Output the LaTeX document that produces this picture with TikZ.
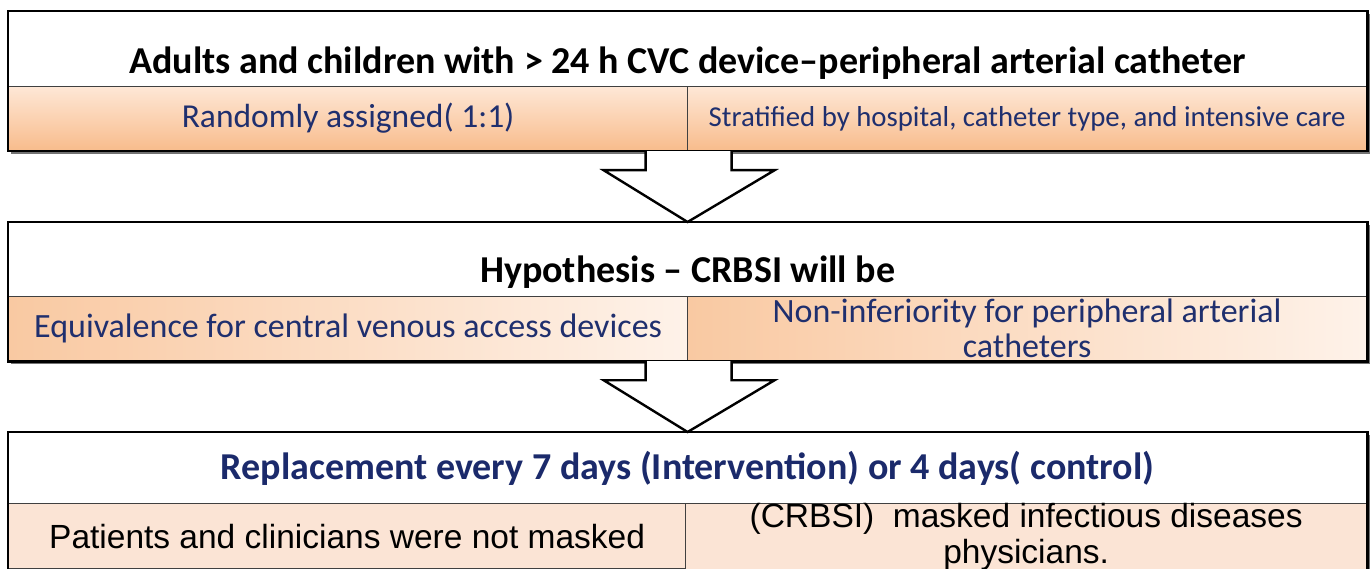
\documentclass[tikz,border=0pt]{standalone}
\usepackage{fontspec}
\setmainfont{Carlito}
\newfontfamily\arialfont{Liberation Sans}
\usetikzlibrary{positioning, calc, backgrounds}
\definecolor{navytext}{HTML}{1F2F6E}
\definecolor{headnavy}{HTML}{1B2A6B}
\definecolor{peachtop}{HTML}{FEE7D6}
\definecolor{peachbot}{HTML}{F8BC8C}
\definecolor{peachleft}{HTML}{F9C9A2}
\definecolor{peachright}{HTML}{FEF2E9}
\definecolor{peachflat}{HTML}{FBE4D5}
\definecolor{framegray}{HTML}{404040}

\begin{document}
\begin{tikzpicture}[x=1pt, y=-1pt,
    cell/.style={draw=framegray, line width=1.2pt, rectangle, inner sep=0pt, anchor=north west, align=center},
    headcell/.style={cell, fill=white, minimum width=1358pt, font=\bfseries\fontsize{38}{44}\selectfont},
    subcell/.style={cell, minimum width=679pt, text=navytext, font=\fontsize{34}{35}\selectfont},
    vshade/.style={top color=peachtop, bottom color=peachbot},
    hshade/.style={left color=peachleft, right color=peachright},
    flatcell/.style={fill=peachflat, text=black, font=\arialfont\fontsize{33.5}{36}\selectfont},
    frame/.style={draw=black, line width=2.6pt},
    blockarrow/.style={draw=black, fill=white, line width=2.4pt, line join=miter}]
    \useasboundingbox (0,0) rectangle (1370,569);

    % Box 1: population
    \node[headcell, minimum height=75pt, text height=49pt, text depth=0pt] (head1) at (8,11) {Adults and children with > 24 h CVC device--peripheral arterial catheter};
    \node[subcell, vshade, minimum height=64pt, font=\fontsize{33.5}{35}\selectfont] (rand) at (8,86) {Randomly assigned( 1:1)};
    \node[subcell, vshade, minimum height=64pt, font=\fontsize{28.8}{32}\selectfont] (strat) at (687,86) {Stratified by hospital, catheter type, and intensive care};

    % Box 2: hypothesis
    \node[headcell, minimum height=74pt, text height=46pt, text depth=0pt] (head2) at (8,222) {Hypothesis -- CRBSI will be};
    \node[subcell, hshade, minimum height=64pt] (equiv) at (8,296) {Equivalence for central venous access devices};
    \node[subcell, hshade, minimum height=64pt] (noninf) at (687,296) {Non-inferiority for peripheral arterial\\catheters};

    % Box 3: intervention
    \node[headcell, minimum height=71pt, text=headnavy] (head3) at (8,432) {Replacement every 7 days (Intervention) or 4 days( control)};
    \node[subcell, flatcell, minimum width=677pt, minimum height=65pt] (notmask) at (8,503) {Patients and clinicians were not masked};
    \node[subcell, flatcell, minimum width=681pt, minimum height=65pt] (masked) at (685,503) {(CRBSI)\ \ masked infectious diseases\\physicians.};

    % Frames and shadows
    \foreach \a/\b in {head1/strat, head2/noninf, head3/masked}{
        \draw[frame] (\a.north west) rectangle (\b.south east);
        \begin{scope}[on background layer]
            \fill[black!55] ($(\a.north west)+(3,3)$) rectangle ($(\b.south east)+(3,3)$);
        \end{scope}
    }

    % Block arrows
    \foreach \s/\t in {rand/head2, equiv/head3}{
        \coordinate (top) at (\s.south -| \t.north);
        \draw[blockarrow] ($(top)+(-42,0)$) -- ($(top)+(-42,19)$) -- ($(top)+(-84,19)$)
            -- (\t.north) -- ($(top)+(87,19)$) -- ($(top)+(44,19)$) -- ($(top)+(44,0)$);
    }
\end{tikzpicture}
\end{document}
